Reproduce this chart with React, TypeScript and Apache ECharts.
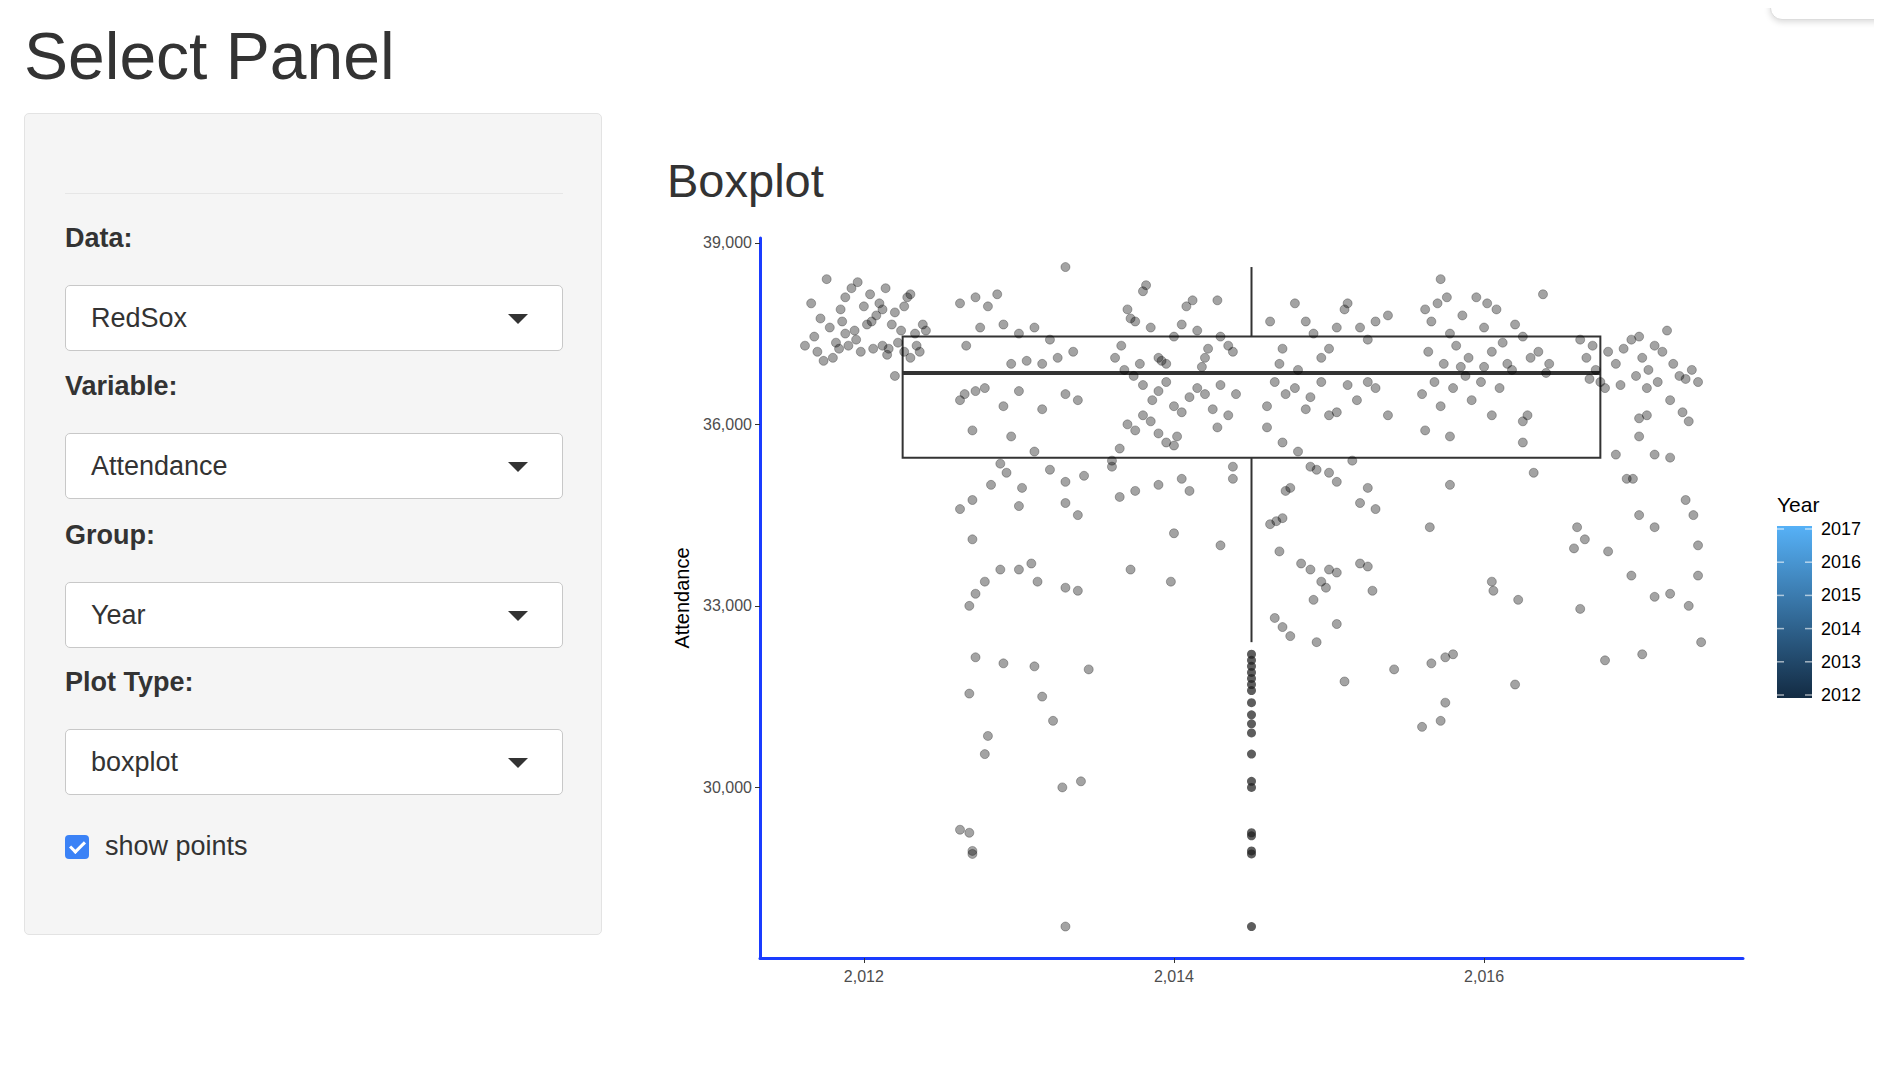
import React, { useEffect, useRef } from "react";
import * as echarts from "echarts";

const yTicks = [30000, 33000, 36000, 39000];
const xTicks = [2012, 2014, 2016];
const legendYears = [2017, 2016, 2015, 2014, 2013, 2012];
// center, lower whisker, q1, median, q3, upper whisker
const boxStats = [2014.5, 32400, 35450, 36850, 37450, 38600];
const boxHalfWidth = 2.25;
const outliers = [32200, 32100, 32000, 31900, 31800, 31700, 31600, 31400, 31200, 31050, 30900, 30550, 30100, 30000, 29250, 29200, 28950, 28900, 27700];

const pts2012 = [
  [2011.62, 37300], [2011.66, 38000], [2011.7, 37200], [2011.72, 37750], [2011.76, 38400], [2011.78, 37600], [2011.8, 37100], [2011.82, 37350],
  [2011.85, 37900], [2011.86, 37700], [2011.88, 38100], [2011.9, 37300], [2011.92, 38250], [2011.94, 37550], [2011.96, 38350], [2011.98, 37200],
  [2012.0, 37950], [2012.02, 37650], [2012.04, 38150], [2012.06, 37250], [2012.08, 37800], [2012.1, 38000], [2012.12, 37300], [2012.14, 38250],
  [2012.16, 37250], [2012.18, 37650], [2012.2, 37850], [2012.22, 37350], [2012.24, 37550], [2012.26, 37950], [2012.2, 36800], [2012.3, 37100],
  [2011.74, 37050], [2011.84, 37250], [2011.95, 37400], [2012.05, 37700], [2012.28, 38100], [2012.33, 37500], [2012.36, 37200], [2012.38, 37650],
  [2012.3, 38150], [2012.26, 37200], [2012.34, 37300], [2012.4, 37550], [2011.68, 37450], [2011.88, 37500], [2012.12, 37900], [2012.15, 37150],
];
const pts2013 = [
  [2012.62, 38000], [2012.72, 38100], [2012.86, 38150], [2012.9, 37650], [2012.75, 37600], [2013.0, 37500], [2013.1, 37600], [2013.2, 37400],
  [2013.25, 37100], [2013.35, 37200], [2012.95, 37000], [2013.05, 37050], [2012.66, 37300], [2013.3, 38600], [2012.8, 37950], [2013.15, 37000],
  [2012.65, 36500], [2012.72, 36550], [2012.78, 36600], [2012.62, 36400], [2012.9, 36300], [2013.0, 36550], [2013.15, 36250], [2013.3, 36500],
  [2013.38, 36400], [2012.7, 35900], [2012.95, 35800], [2013.1, 35550], [2012.88, 35350], [2012.92, 35200], [2013.2, 35250], [2013.3, 35050],
  [2012.82, 35000], [2013.42, 35150], [2013.02, 34950], [2012.62, 34600], [2012.7, 34750], [2013.0, 34650], [2013.3, 34700], [2013.38, 34500],
  [2012.7, 34100], [2012.68, 33000], [2012.72, 33200], [2012.78, 33400], [2012.88, 33600], [2013.0, 33600], [2013.08, 33700], [2013.12, 33400],
  [2013.3, 33300], [2013.38, 33250], [2012.72, 32150], [2012.9, 32050], [2013.1, 32000], [2013.45, 31950], [2012.68, 31550], [2013.15, 31500],
  [2013.22, 31100], [2012.8, 30850], [2012.78, 30550], [2013.28, 30000], [2013.4, 30100], [2012.62, 29300], [2012.68, 29250], [2012.7, 28950],
  [2012.7, 28900], [2013.3, 27700],
];
const pts2014 = [
  [2013.62, 37100], [2013.66, 37300], [2013.7, 37900], [2013.72, 37750], [2013.75, 37700], [2013.8, 38200], [2013.82, 38300], [2013.78, 37000],
  [2013.85, 37600], [2013.9, 37100], [2013.95, 37000], [2014.0, 37450], [2014.05, 37650], [2014.08, 37950], [2014.12, 38050], [2014.15, 37550],
  [2014.2, 37100], [2014.22, 37250], [2014.28, 38050], [2014.3, 37450], [2014.35, 37300], [2014.38, 37200], [2013.68, 36900], [2013.74, 36800],
  [2013.8, 36650], [2013.86, 36400], [2013.9, 36550], [2013.95, 36700], [2014.0, 36300], [2014.05, 36200], [2014.1, 36450], [2014.15, 36600],
  [2014.2, 36500], [2014.25, 36250], [2014.3, 36650], [2014.35, 36150], [2014.4, 36500], [2013.7, 36000], [2013.75, 35900], [2013.8, 36150],
  [2013.85, 36050], [2013.9, 35850], [2013.95, 35700], [2014.0, 35650], [2014.02, 35800], [2013.65, 35600], [2013.6, 35400], [2014.28, 35950],
  [2014.38, 35100], [2014.38, 35300], [2013.65, 34800], [2013.75, 34900], [2013.9, 35000], [2014.05, 35100], [2014.0, 34200], [2013.72, 33600],
  [2013.98, 33400], [2014.3, 34000], [2014.1, 34900], [2013.92, 37050], [2014.18, 36950], [2013.6, 35300],
];
const pts2015 = [
  [2014.62, 37700], [2014.7, 37250], [2014.78, 38000], [2014.85, 37700], [2014.9, 37500], [2014.95, 37100], [2015.0, 37250], [2015.05, 37600],
  [2015.1, 37900], [2015.12, 38000], [2015.2, 37600], [2015.25, 37400], [2015.3, 37700], [2015.38, 37800], [2014.68, 37000], [2014.8, 36900],
  [2014.6, 36300], [2014.65, 36700], [2014.72, 36500], [2014.78, 36600], [2014.85, 36250], [2014.88, 36450], [2014.95, 36700], [2015.0, 36150],
  [2015.05, 36200], [2015.12, 36650], [2015.18, 36400], [2015.25, 36700], [2015.3, 36600], [2015.38, 36150], [2014.6, 35950], [2014.7, 35700],
  [2014.8, 35550], [2014.88, 35300], [2014.92, 35250], [2015.0, 35200], [2015.05, 35050], [2014.75, 34950], [2014.72, 34900], [2015.2, 34700],
  [2015.25, 34950], [2015.3, 34600], [2014.62, 34350], [2014.66, 34400], [2014.7, 34450], [2014.68, 33900], [2014.82, 33700], [2014.88, 33600],
  [2014.95, 33400], [2015.0, 33600], [2015.05, 33550], [2014.9, 33100], [2014.98, 33300], [2015.2, 33700], [2015.25, 33650], [2015.28, 33250],
  [2014.65, 32800], [2014.7, 32650], [2014.75, 32500], [2014.92, 32400], [2015.05, 32700], [2015.1, 31750], [2015.42, 31950], [2015.15, 35400],
];
const pts2016 = [
  [2015.62, 37900], [2015.66, 37700], [2015.7, 38000], [2015.72, 38400], [2015.76, 38100], [2015.78, 37500], [2015.82, 37300], [2015.86, 37800],
  [2015.9, 37100], [2015.95, 38100], [2016.0, 37600], [2016.02, 38000], [2016.05, 37200], [2016.08, 37900], [2016.12, 37350], [2016.15, 37000],
  [2016.2, 37650], [2016.25, 37450], [2016.3, 37100], [2016.35, 37200], [2016.38, 38150], [2016.42, 37000], [2015.64, 37200], [2015.74, 37000],
  [2015.6, 36500], [2015.68, 36700], [2015.72, 36300], [2015.8, 36600], [2015.88, 36800], [2015.92, 36400], [2015.98, 36700], [2016.05, 36150],
  [2016.1, 36600], [2016.18, 36900], [2016.25, 36050], [2016.28, 36150], [2016.4, 36850], [2015.62, 35900], [2015.78, 35800], [2016.25, 35700],
  [2016.32, 35200], [2015.78, 35000], [2015.65, 34300], [2016.05, 33400], [2016.06, 33250], [2016.22, 33100], [2015.66, 32050], [2015.75, 32150],
  [2015.8, 32200], [2016.2, 31700], [2015.75, 31400], [2015.72, 31100], [2015.6, 31000], [2015.85, 36950], [2016.0, 36950],
];
const pts2017 = [
  [2016.62, 37400], [2016.66, 37100], [2016.7, 37300], [2016.72, 36900], [2016.75, 36700], [2016.8, 37200], [2016.85, 37000], [2016.9, 37250],
  [2016.95, 37400], [2017.0, 37450], [2017.02, 37100], [2017.06, 36900], [2017.1, 37300], [2017.15, 37200], [2017.18, 37550], [2017.22, 37000],
  [2017.26, 36800], [2017.3, 36750], [2017.34, 36900], [2017.38, 36700], [2016.78, 36600], [2016.88, 36650], [2016.98, 36800], [2017.05, 36600],
  [2017.12, 36700], [2017.2, 36400], [2017.28, 36200], [2017.32, 36050], [2016.68, 36750], [2017.0, 36100], [2017.05, 36150], [2017.0, 35800],
  [2016.85, 35500], [2017.1, 35500], [2017.2, 35450], [2016.92, 35100], [2016.96, 35100], [2016.6, 34300], [2016.65, 34100], [2016.58, 33950],
  [2016.8, 33900], [2017.0, 34500], [2017.1, 34300], [2017.3, 34750], [2017.35, 34500], [2017.38, 34000], [2016.95, 33500], [2017.1, 33150],
  [2017.2, 33200], [2017.38, 33500], [2016.62, 32950], [2017.32, 33000], [2016.78, 32100], [2017.02, 32200], [2017.4, 32400],
];
const points = [...pts2012, ...pts2013, ...pts2014, ...pts2015, ...pts2016, ...pts2017];

const FONT = "Helvetica, Arial, 'Liberation Sans', sans-serif";

function Select({ label, value, top }: { label: string; value: string; top: number }) {
  return (
    <>
      <div style={{ position: "absolute", left: 40, top: top - 62, fontSize: 27, fontWeight: 700, color: "#333" }}>{label}</div>
      <div style={{ position: "absolute", left: 40, top, width: 498, height: 66, background: "#fff", border: "1px solid #c8c8c8", borderRadius: 5, boxSizing: "border-box" }}>
        <div style={{ position: "absolute", left: 25, top: 17, fontSize: 27, color: "#333" }}>{value}</div>
        <div style={{ position: "absolute", right: 34, top: 28, width: 0, height: 0, borderLeft: "10px solid transparent", borderRight: "10px solid transparent", borderTop: "10px solid #333" }} />
      </div>
    </>
  );
}

export default function App() {
  const ref = useRef<HTMLDivElement>(null);
  useEffect(() => {
    const chart = echarts.init(ref.current!, null, { renderer: "svg" });
    const legendTop = 526, legendBottom = 698;
    const step = (legendBottom - legendTop - 6) / 5;
    chart.setOption({
      animation: false,
      title: { text: "Boxplot", left: 662, top: 152, textStyle: { fontSize: 47, fontWeight: 500, color: "#333", fontFamily: FONT } },
      grid: { left: 760, top: 238, right: 139, bottom: 122 },
      xAxis: {
        type: "value", min: 2011.33, max: 2017.67,
        splitLine: { show: false },
        axisLine: { show: true, lineStyle: { color: "#1a3cff", width: 3 } },
        axisTick: { show: true, customValues: xTicks, length: 5, lineStyle: { color: "#333" } },
        axisLabel: { customValues: xTicks, color: "#4d4d4d", fontSize: 16, fontFamily: FONT, margin: 10 },
      },
      yAxis: {
        type: "value", min: 27180, max: 39080,
        name: "Attendance", nameLocation: "middle", nameGap: 62, nameRotate: 90,
        nameTextStyle: { color: "#000", fontSize: 20, fontFamily: FONT },
        splitLine: { show: false },
        axisLine: { show: true, lineStyle: { color: "#1a3cff", width: 3 } },
        axisTick: { show: true, customValues: yTicks, length: 5, lineStyle: { color: "#333" } },
        axisLabel: { customValues: yTicks, color: "#4d4d4d", fontSize: 16, fontFamily: FONT, margin: 8 },
      },
      series: [
        {
          type: "custom",
          data: [boxStats],
          z: 3,
          renderItem: (params: any, api: any) => {
            const x = api.value(0), lo = api.value(1), q1 = api.value(2), md = api.value(3), q3 = api.value(4), hi = api.value(5);
            const pL = api.coord([x - boxHalfWidth, q3]);
            const pR = api.coord([x + boxHalfWidth, q1]);
            const pM = api.coord([x, md]);
            const pLo = api.coord([x, lo]);
            const pHi = api.coord([x, hi]);
            const st = { stroke: "#333", lineWidth: 2, fill: "none" };
            return {
              type: "group",
              children: [
                { type: "line", shape: { x1: pHi[0], y1: pHi[1], x2: pHi[0], y2: pL[1] }, style: st },
                { type: "line", shape: { x1: pLo[0], y1: pR[1], x2: pLo[0], y2: pLo[1] }, style: st },
                { type: "rect", shape: { x: pL[0], y: pL[1], width: pR[0] - pL[0], height: pR[1] - pL[1] }, style: st },
                { type: "line", shape: { x1: pL[0], y1: pM[1], x2: pR[0], y2: pM[1] }, style: { stroke: "#333", lineWidth: 4 } },
              ],
            };
          },
        },
        {
          type: "scatter", data: outliers.map((v) => [boxStats[0], v]), symbolSize: 9, z: 4,
          itemStyle: { color: "rgba(30,30,30,0.9)" },
        },
        {
          type: "scatter", data: points, symbolSize: 9, z: 5,
          itemStyle: { color: "rgba(0,0,0,0.45)", borderColor: "rgba(0,0,0,0.35)", borderWidth: 1 },
        },
      ],
      graphic: [
        { type: "text", left: 1777, top: 494, style: { text: "Year", fontSize: 21, fill: "#000", fontFamily: FONT } },
        {
          type: "rect", shape: { x: 1777, y: legendTop, width: 35, height: legendBottom - legendTop },
          style: { fill: new echarts.graphic.LinearGradient(0, 0, 0, 1, [{ offset: 0, color: "#56B1F7" }, { offset: 1, color: "#132B43" }]) },
        },
        ...legendYears.flatMap((yr, i) => {
          const y = legendTop + 3 + i * step;
          return [
            { type: "line", shape: { x1: 1777, y1: y, x2: 1784, y2: y }, style: { stroke: "rgba(255,255,255,0.6)", lineWidth: 1.5 } },
            { type: "line", shape: { x1: 1805, y1: y, x2: 1812, y2: y }, style: { stroke: "rgba(255,255,255,0.6)", lineWidth: 1.5 } },
            { type: "text", x: 1821, y, style: { text: String(yr), fontSize: 18, fill: "#000", fontFamily: FONT, verticalAlign: "middle" } },
          ];
        }),
      ],
    });
    return () => chart.dispose();
  }, []);
  return (
    <div style={{ position: "relative", width: 1866, height: 1064, fontFamily: FONT, color: "#333", overflow: "hidden" }}>
      <div ref={ref} style={{ position: "absolute", left: -8, top: -8, width: 1882, height: 1080 }} />
      <div style={{ position: "absolute", left: 1762, top: -20, width: 200, height: 30, border: "1px solid #ddd", borderRadius: 12, boxShadow: "0 2px 6px rgba(0,0,0,0.15)", background: "#fff" }} />
      <div style={{ position: "absolute", left: 16, top: 10, fontSize: 66, fontWeight: 500, color: "#333", whiteSpace: "nowrap" }}>Select Panel</div>
      <div style={{ position: "absolute", left: 16, top: 105, width: 578, height: 822, background: "#f5f5f5", border: "1px solid #e3e3e3", borderRadius: 5, boxSizing: "border-box" }}>
        <div style={{ position: "absolute", left: 40, top: 79, width: 498, borderTop: "1px solid #e6e6e6" }} />
        <Select label="Data:" value="RedSox" top={171} />
        <Select label="Variable:" value="Attendance" top={319} />
        <Select label="Group:" value="Year" top={468} />
        <Select label="Plot Type:" value="boxplot" top={615} />
        <div style={{ position: "absolute", left: 40, top: 721, width: 24, height: 24, background: "#3b82f6", borderRadius: 4 }}>
          <div style={{ position: "absolute", left: 8, top: 3, width: 6, height: 12, borderRight: "3px solid #fff", borderBottom: "3px solid #fff", transform: "rotate(45deg)" }} />
        </div>
        <div style={{ position: "absolute", left: 80, top: 717, fontSize: 27, color: "#333" }}>show points</div>
      </div>
    </div>
  );
}
